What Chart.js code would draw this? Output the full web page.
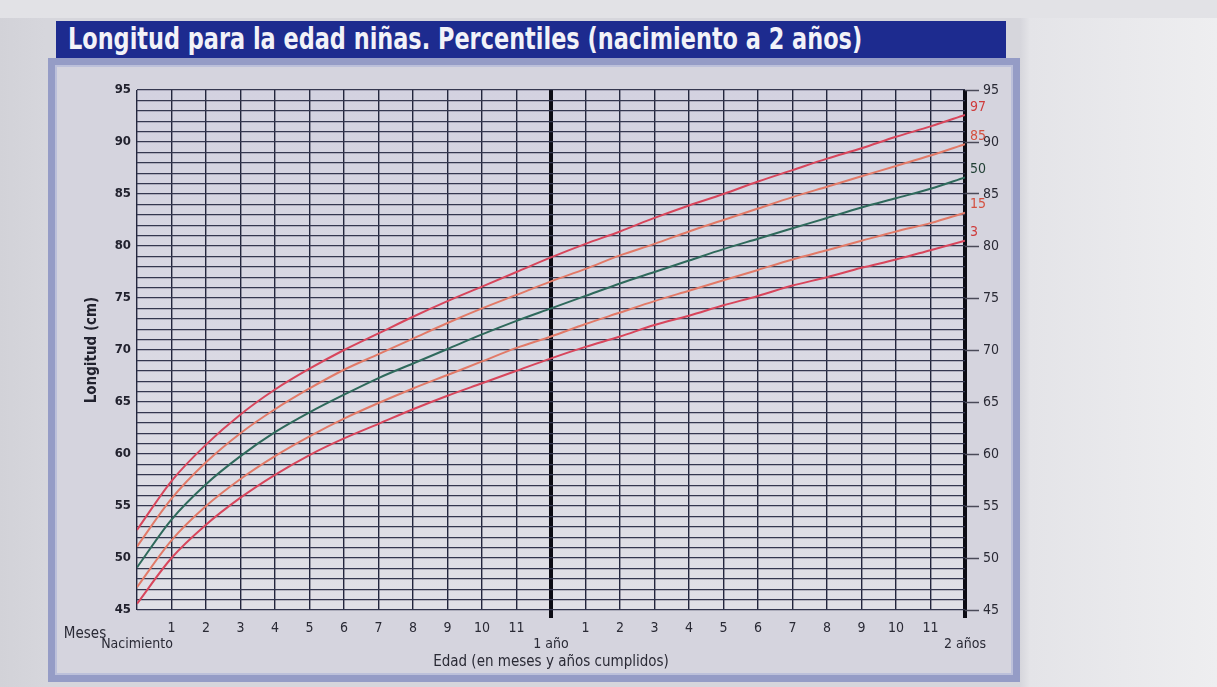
<!DOCTYPE html>
<html lang="es">
<head>
<meta charset="utf-8">
<title>Longitud para la edad niñas</title>
<script src="https://cdn.jsdelivr.net/npm/chart.js@4.4.1/dist/chart.umd.min.js"></script>
<style>
  html, body { margin: 0; padding: 0; }
  body {
    width: 1217px; height: 687px; overflow: hidden; position: relative;
    background: linear-gradient(90deg, #d2d2d8 0px, #d6d6dc 45px, #d6d6dc 1020px, #e4e4e8 1030px, #eeeef0 1217px);
    font-family: 'Liberation Sans Narrow', 'DejaVu Sans Condensed', 'Liberation Sans', sans-serif;
  }
  #toolbar {
    position: absolute; left: 0; top: 0; width: 1217px; height: 18px;
    background: #e2e2e6;
  }
  #marco {
    position: absolute; left: 48px; top: 58px; width: 958px; height: 610px;
    border: 7px solid #959cc6;
    background: #d5d4de;
    box-shadow: inset 0 0 0 2px #bcc0da;
  }
  #cabecera {
    position: absolute; left: 56px; top: 21px; width: 950px; height: 37px;
    background: #1d2b8f;
  }
  #cabecera span {
    position: absolute; left: 12px; top: 0;
    color: #f2f2f8; font-weight: bold; font-size: 30px; line-height: 36px;
    white-space: nowrap; transform: scaleX(0.83); transform-origin: left center;
  }
  #grafico { position: absolute; left: 0; top: 0; }
</style>
</head>
<body>
<div id="toolbar"></div>
<div id="marco"></div>
<div id="cabecera"><span>Longitud para la edad niñas. Percentiles (nacimiento a 2 años)</span></div>
<canvas id="grafico" width="1217" height="687"></canvas>
<script>
// Edad en meses (0 = nacimiento, 24 = 2 años)
const edadMeses = [0, 1, 2, 3, 4, 5, 6, 7, 8, 9, 10, 11, 12, 13, 14, 15, 16, 17, 18, 19, 20, 21, 22, 23, 24];

// Percentiles de longitud (cm)
const p3  = [45.6, 50.0, 53.2, 55.8, 58.0, 59.9, 61.5, 62.9, 64.3, 65.6, 66.8, 68.0, 69.2, 70.3, 71.3, 72.4, 73.3, 74.3, 75.2, 76.2, 77.0, 77.9, 78.7, 79.6, 80.5];
const p15 = [47.2, 51.7, 55.0, 57.6, 59.8, 61.7, 63.4, 64.9, 66.3, 67.6, 68.9, 70.2, 71.3, 72.5, 73.6, 74.7, 75.7, 76.7, 77.7, 78.7, 79.6, 80.5, 81.4, 82.2, 83.2];
const p50 = [49.1, 53.7, 57.1, 59.8, 62.1, 64.0, 65.7, 67.3, 68.7, 70.1, 71.5, 72.8, 74.0, 75.2, 76.4, 77.5, 78.6, 79.7, 80.7, 81.7, 82.7, 83.7, 84.6, 85.5, 86.6];
const p85 = [51.1, 55.7, 59.2, 62.0, 64.3, 66.3, 68.1, 69.6, 71.1, 72.6, 74.0, 75.3, 76.6, 77.8, 79.1, 80.2, 81.4, 82.5, 83.6, 84.7, 85.7, 86.7, 87.7, 88.7, 89.8];
const p97 = [52.7, 57.4, 60.9, 63.8, 66.2, 68.2, 70.0, 71.6, 73.2, 74.7, 76.1, 77.5, 78.9, 80.2, 81.4, 82.7, 83.9, 85.0, 86.2, 87.3, 88.4, 89.4, 90.5, 91.5, 92.6];

// Etiquetas del eje X (segunda línea para años)
const etiquetasMes = [
  ['', 'Nacimiento'], ['1'], ['2'], ['3'], ['4'], ['5'], ['6'], ['7'], ['8'], ['9'], ['10'], ['11'],
  ['', '1 año'], ['1'], ['2'], ['3'], ['4'], ['5'], ['6'], ['7'], ['8'], ['9'], ['10'], ['11'],
  ['', '2 años']
];
const nombresPercentil = ['97', '85', '50', '15', '3'];

const fuente = "'Liberation Sans Narrow', 'DejaVu Sans Condensed', 'Liberation Sans', sans-serif";
const rojo = '#d8465c';
const salmon = '#e27a68';
const verde = '#2f6a5c';

const puntos = serie => serie.map((v, i) => ({ x: edadMeses[i], y: v }));

// Fondo del área de trazado
const fondoPlugin = {
  id: 'fondo',
  beforeDraw(chart) {
    const { ctx, chartArea: a } = chart;
    const g = ctx.createLinearGradient(0, a.top, 0, a.bottom);
    g.addColorStop(0, '#d3d2e0');
    g.addColorStop(1, '#e0e0e6');
    ctx.save();
    ctx.fillStyle = g;
    ctx.fillRect(a.left, a.top, a.right - a.left, a.bottom - a.top);
    ctx.restore();
  }
};

// Etiquetas de percentil al final de cada curva y texto "Meses"
const etiquetasPlugin = {
  id: 'etiquetas',
  afterDatasetsDraw(chart) {
    const { ctx, chartArea: a } = chart;
    ctx.save();
    ctx.font = '14px ' + fuente;
    ctx.textAlign = 'left';
    ctx.textBaseline = 'middle';
    chart.data.datasets.forEach((ds, i) => {
      const meta = chart.getDatasetMeta(i);
      const ultimo = meta.data[meta.data.length - 1];
      ctx.fillStyle = ds.colorEtiqueta;
      ctx.fillText(nombresPercentil[i], ultimo.x + 5, ultimo.y - 8);
    });
    ctx.font = '15px ' + fuente;
    ctx.fillStyle = '#2a2a35';
    ctx.textAlign = 'center';
    ctx.fillText('Meses', a.left - 52, a.bottom + 24);
    ctx.restore();
  }
};

const ctx = document.getElementById('grafico').getContext('2d');
new Chart(ctx, {
  type: 'line',
  data: {
    datasets: [
      { label: '97', data: puntos(p97), borderColor: rojo, colorEtiqueta: '#cf3b3b' },
      { label: '85', data: puntos(p85), borderColor: salmon, colorEtiqueta: '#d4503f' },
      { label: '50', data: puntos(p50), borderColor: verde, colorEtiqueta: '#1f3f33' },
      { label: '15', data: puntos(p15), borderColor: salmon, colorEtiqueta: '#d4503f' },
      { label: '3',  data: puntos(p3),  borderColor: rojo, colorEtiqueta: '#cf3b3b' }
    ]
  },
  options: {
    responsive: false,
    animation: false,
    layout: { padding: { top: 90, left: 57, right: 202, bottom: 10 } },
    elements: {
      point: { radius: 0 },
      line: { borderWidth: 2, cubicInterpolationMode: 'monotone' }
    },
    plugins: { legend: { display: false }, tooltip: { enabled: false } },
    scales: {
      x: {
        type: 'linear', min: 0, max: 24,
        afterFit: s => { s.height = 67; },
        border: { display: false },
        grid: {
          color: c => (c.tick && c.tick.value % 12 === 0 && c.tick.value > 0) ? '#0c0c14' : '#23263d',
          lineWidth: c => (c.tick && c.tick.value % 12 === 0 && c.tick.value > 0) ? 4 : 1.4,
          drawTicks: true,
          tickLength: 8,
          tickColor: c => (c.tick && c.tick.value % 12 === 0 && c.tick.value > 0) ? '#0c0c14' : 'transparent',
          tickWidth: 4
        },
        ticks: {
          stepSize: 1, autoSkip: false, maxRotation: 0, padding: 2,
          color: '#2a2a35',
          font: { family: fuente, size: 14, lineHeight: 1.15 },
          callback: v => etiquetasMes[v]
        },
        title: {
          display: true, text: 'Edad (en meses y años cumplidos)',
          color: '#2a2a35', font: { family: fuente, size: 15 },
          padding: { top: 0, bottom: 6 }
        }
      },
      y: {
        min: 45, max: 95,
        afterFit: s => { s.width = 80; },
        border: { display: false },
        grid: { color: '#34374f', lineWidth: 1.2, drawTicks: false },
        ticks: {
          stepSize: 1, autoSkip: false, padding: 6,
          color: '#22222e',
          font: { family: fuente, size: 13, weight: 'bold' },
          callback: v => (v % 5 === 0 ? v : '')
        },
        title: {
          display: true, text: 'Longitud (cm)',
          color: '#22222e', font: { family: fuente, size: 15, weight: 'bold' },
          padding: { top: 26, bottom: 0 }
        }
      },
      y2: {
        position: 'right', min: 45, max: 95,
        afterFit: s => { s.width = 50; },
        border: { display: false },
        grid: {
          drawOnChartArea: false, drawTicks: true, tickLength: 14,
          tickColor: c => (c.tick && c.tick.value % 5 === 0) ? '#4a4a58' : 'transparent',
          tickWidth: 1.5
        },
        ticks: {
          stepSize: 1, autoSkip: false, padding: 4,
          color: '#2a2a35',
          font: { family: fuente, size: 14 },
          callback: v => (v % 5 === 0 ? v : '')
        }
      }
    }
  },
  plugins: [fondoPlugin, etiquetasPlugin]
});
</script>
</body>
</html>
